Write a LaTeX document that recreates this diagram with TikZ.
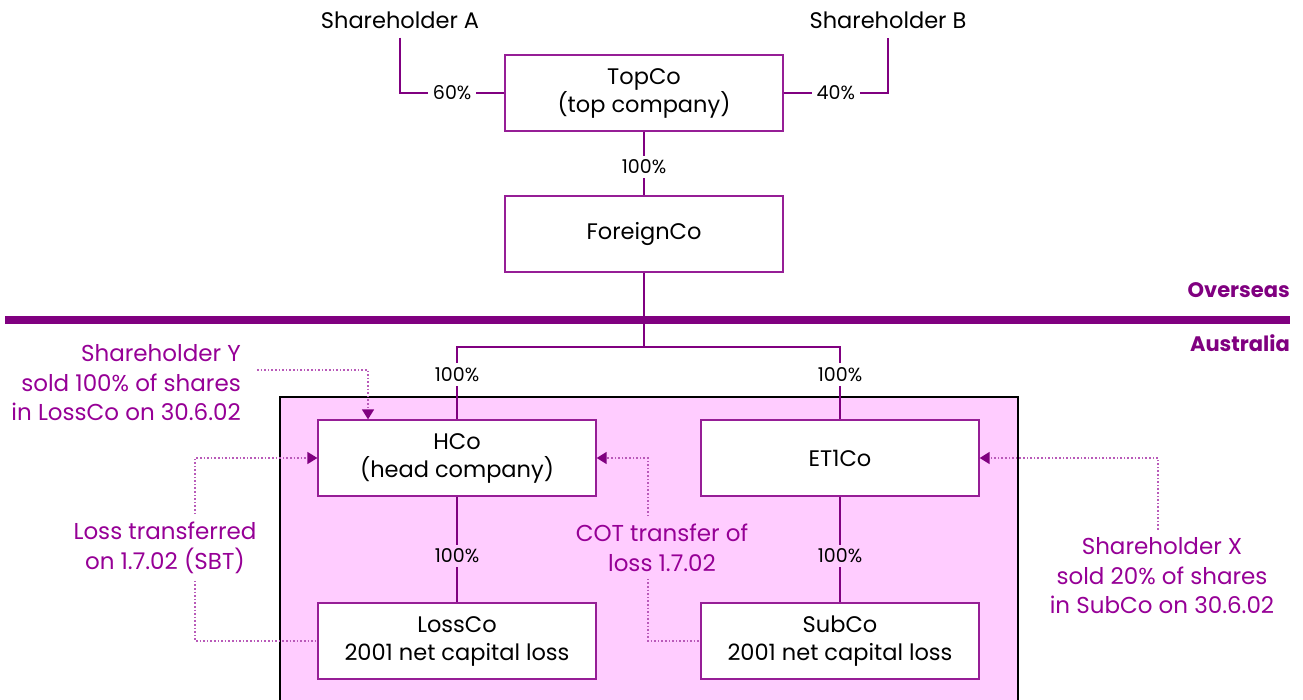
\documentclass[tikz,border=0pt]{standalone}
\usepackage{fontspec}
\setmainfont{Poppins}
\usepackage{xcolor}
\usetikzlibrary{arrows.meta,positioning}
\definecolor{plum}{RGB}{128,0,128}
\definecolor{boxline}{RGB}{150,30,150}
\definecolor{notetext}{RGB}{150,0,150}
\definecolor{dotline}{RGB}{185,90,185}
\definecolor{pinkfill}{RGB}{255,204,255}
\tikzstyle{company}=[draw=boxline,fill=white,line width=1.3pt,minimum width=278pt,minimum height=76pt,inner sep=0pt,align=center,font=\fontsize{22.5}{28}\selectfont]
\tikzstyle{holder}=[inner sep=0pt,font=\fontsize{22.5}{24}\selectfont]
\tikzstyle{pct}=[inner xsep=5pt,inner ysep=4pt,font=\fontsize{19}{20}\selectfont]
\tikzstyle{own}=[draw=plum,line width=1.2pt]
\tikzstyle{note}=[text=notetext,inner sep=0pt,font=\fontsize{23}{29.5}\selectfont]
\tikzstyle{notelink}=[draw=dotline,dotted,line width=1.6pt]
\tikzstyle{notearrow}=[notelink,-{Triangle[length=10pt,width=12pt,fill=plum,color=plum]}]
\tikzstyle{region}=[font=\bfseries\fontsize{21}{22}\selectfont,text=plum,inner sep=0pt]

\begin{document}
\begin{tikzpicture}[x=1pt,y=1pt]
    \useasboundingbox (0,0) rectangle (1303,-700);

    % Australian consolidated group
    \fill[pinkfill,draw=black,line width=1.2pt] (280,-397) rectangle (1018,-710);

    % border between overseas and Australia
    \draw[plum,line width=8pt] (5,-320) -- (1290,-320);
    \node[region,anchor=east] (over) at (1290,-290) {Overseas};
    \node[region,anchor=east] (aus) at (1290,-343) {Australia};

    \node[holder] (shA) at (400,-20) {Shareholder A};
    \node[holder] (shB) at (888,-20) {Shareholder B};

    \foreach \pos/ \name/ \label in {{(644,-93)/top/{TopCo\\(top company)}}, {(644,-234)/foreign/{ForeignCo}},
        {(457,-458)/hco/{HCo\\(head company)}}, {(840,-458)/et1/{ET1Co}},
        {(457,-641)/loss/{LossCo\\2001 net capital loss}}, {(840,-641)/sub/{SubCo\\2001 net capital loss}}}
        \node[company] (\name) at \pos {\label};

    % ownership
    \draw[own] ([yshift=-9pt]shA.south) |- node[pct,fill=white,pos=0.75] {60\%} (top.west);
    \draw[own] (top.east) -| node[pct,fill=white,pos=0.25] {40\%} ([yshift=-9pt]shB.south);
    \draw[own] (top) -- node[pct,fill=white,pos=0.55] {100\%} (foreign);

    \coordinate (fork) at (644,-347);
    \draw[own] (foreign) -- (fork);
    \draw[own] (fork) -| node[pct,fill=white,pos=0.69] {100\%} (hco);
    \draw[own] (fork) -| node[pct,fill=white,pos=0.69] {100\%} (et1);
    \draw[own] (hco) -- node[pct,fill=pinkfill,pos=0.56] {100\%} (loss);
    \draw[own] (et1) -- node[pct,fill=pinkfill,pos=0.56] {100\%} (sub);

    % notes
    \node[note,align=right,anchor=east] (noteY) at (241,-383) {Shareholder Y\\sold 100\% of shares\\in LossCo on 30.6.02};
    \node[note,align=center] (noteL) at (165,-548) {Loss transferred\\on 1.7.02 (SBT)};
    \node[note,align=center] (noteC) at (662,-548) {COT transfer of\\loss 1.7.02};
    \node[note,align=center] (noteX) at (1162,-576) {Shareholder X\\sold 20\% of shares\\in SubCo on 30.6.02};

    \coordinate (yStart) at (257,-370);
    \draw[notearrow] (yStart) -| ([xshift=-89pt]hco.north);
    \draw[notearrow] ([xshift=30pt,yshift=8pt]noteL.north) |- (hco.west);
    \draw[notelink] ([xshift=30pt,yshift=-7pt]noteL.south) |- (loss.west);
    \draw[notearrow] ([xshift=-14pt,yshift=8pt]noteC.north) |- (hco.east);
    \draw[notelink] ([xshift=-14pt,yshift=-7pt]noteC.south) |- (sub.west);
    \draw[notearrow] ([xshift=-4pt,yshift=8pt]noteX.north) |- (et1.east);

\end{tikzpicture}
\end{document}
